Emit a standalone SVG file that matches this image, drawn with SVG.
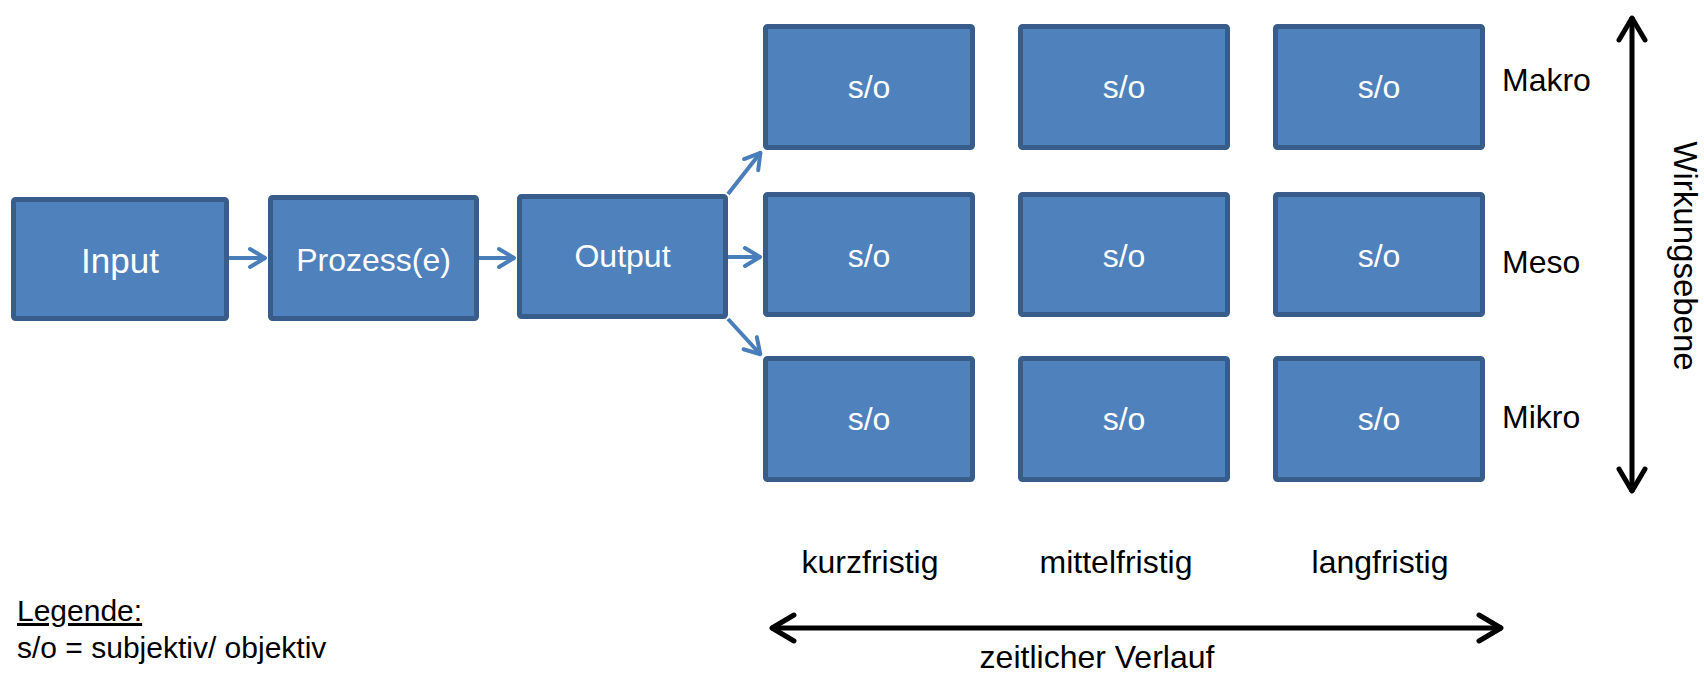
<svg xmlns="http://www.w3.org/2000/svg" width="1704" height="677" viewBox="0 0 1704 677">
<style>
.box{fill:#4F81BD;stroke:#385D8A;stroke-width:5}
.bt{font-family:"Liberation Sans",Arial,sans-serif;font-size:32px;fill:#FFFFFF;text-anchor:middle}
.lbl{font-family:"Liberation Sans",Arial,sans-serif;font-size:32px;fill:#000000}
.con{fill:none;stroke:#4A7EBB;stroke-width:4}
.axis{fill:none;stroke:#000000;stroke-width:5}
</style>
<defs>
<marker id="ab" viewBox="-22 -12 26 24" refX="0" refY="0" markerWidth="26" markerHeight="24" markerUnits="userSpaceOnUse" orient="auto">
<path d="M-16,-9 L-1,0 L-16,9" fill="none" stroke="#4A7EBB" stroke-width="4" stroke-linecap="round" stroke-linejoin="round"/>
</marker>
<marker id="ak" viewBox="-30 -16 34 32" refX="0" refY="0" markerWidth="34" markerHeight="32" markerUnits="userSpaceOnUse" orient="auto-start-reverse">
<path d="M-23,-13 L-1,0 L-23,13" fill="none" stroke="#000000" stroke-width="5" stroke-linecap="round" stroke-linejoin="round"/>
</marker>
</defs>
<rect width="1704" height="677" fill="#FFFFFF"/>
<g id="connectors">
<line class="con" x1="229" y1="258" x2="266" y2="258" marker-end="url(#ab)"/>
<line class="con" x1="479" y1="258" x2="515" y2="258" marker-end="url(#ab)"/>
<line class="con" x1="728" y1="194" x2="761" y2="152" marker-end="url(#ab)"/>
<line class="con" x1="728" y1="257" x2="761" y2="257" marker-end="url(#ab)"/>
<line class="con" x1="728" y1="319" x2="761" y2="355" marker-end="url(#ab)"/>
</g>
<g id="input"><rect class="box" x="13.5" y="199.5" width="213" height="119" rx="2"/><text class="bt" x="120" y="273" style="font-size:35px">Input</text></g>
<g id="prozess"><rect class="box" x="270.5" y="197.5" width="206" height="121" rx="2"/><text class="bt" x="373.5" y="271">Prozess(e)</text></g>
<g id="output"><rect class="box" x="519.5" y="196.5" width="206" height="120" rx="2"/><text class="bt" x="622.5" y="267">Output</text></g>
<g id="makro-kurz"><rect class="box" x="765.5" y="26.5" width="207" height="121" rx="2"/><text class="bt" x="869" y="98">s/o</text></g>
<g id="makro-mittel"><rect class="box" x="1020.5" y="26.5" width="207" height="121" rx="2"/><text class="bt" x="1124" y="98">s/o</text></g>
<g id="makro-lang"><rect class="box" x="1275.5" y="26.5" width="207" height="121" rx="2"/><text class="bt" x="1379" y="98">s/o</text></g>
<g id="meso-kurz"><rect class="box" x="765.5" y="194.5" width="207" height="120" rx="2"/><text class="bt" x="869" y="267">s/o</text></g>
<g id="meso-mittel"><rect class="box" x="1020.5" y="194.5" width="207" height="120" rx="2"/><text class="bt" x="1124" y="267">s/o</text></g>
<g id="meso-lang"><rect class="box" x="1275.5" y="194.5" width="207" height="120" rx="2"/><text class="bt" x="1379" y="267">s/o</text></g>
<g id="mikro-kurz"><rect class="box" x="765.5" y="358.5" width="207" height="121" rx="2"/><text class="bt" x="869" y="430">s/o</text></g>
<g id="mikro-mittel"><rect class="box" x="1020.5" y="358.5" width="207" height="121" rx="2"/><text class="bt" x="1124" y="430">s/o</text></g>
<g id="mikro-lang"><rect class="box" x="1275.5" y="358.5" width="207" height="121" rx="2"/><text class="bt" x="1379" y="430">s/o</text></g>
<g id="level-labels">
<text class="lbl" x="1502" y="91">Makro</text>
<text class="lbl" x="1502" y="273">Meso</text>
<text class="lbl" x="1502" y="428">Mikro</text>
</g>
<g id="wirkungsebene-axis">
<line class="axis" x1="1632" y1="17" x2="1632" y2="492" marker-start="url(#ak)" marker-end="url(#ak)"/>
<text class="lbl" transform="translate(1674,256) rotate(90)" text-anchor="middle" style="font-size:33px">Wirkungsebene</text>
</g>
<g id="time-labels">
<text class="lbl" x="870" y="573" text-anchor="middle">kurzfristig</text>
<text class="lbl" x="1116" y="573" text-anchor="middle">mittelfristig</text>
<text class="lbl" x="1380" y="573" text-anchor="middle">langfristig</text>
</g>
<g id="time-axis">
<line class="axis" x1="771" y1="628" x2="1502" y2="628" marker-start="url(#ak)" marker-end="url(#ak)"/>
<text class="lbl" x="1097" y="668" text-anchor="middle">zeitlicher Verlauf</text>
</g>
<g id="legend">
<text class="lbl" x="17" y="621" style="font-size:30px;text-decoration:underline">Legende:</text>
<text class="lbl" x="17" y="658" style="font-size:30px">s/o = subjektiv/ objektiv</text>
</g>
</svg>
